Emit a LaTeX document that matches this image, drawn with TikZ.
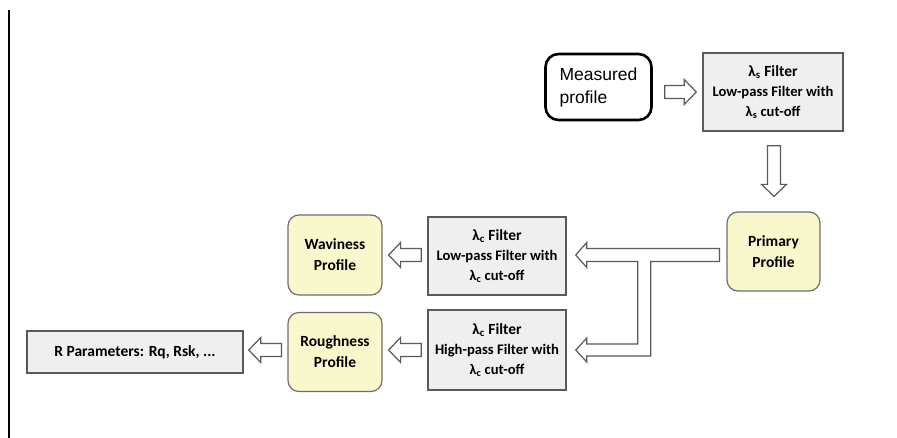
\documentclass[tikz,border=0pt]{standalone}
\usepackage{fontspec}
\setmainfont{Carlito}
\newfontfamily\arialf{Liberation Sans}
\usetikzlibrary{calc}
\definecolor{pyellow}{RGB}{249,247,204}
\definecolor{pgrayfill}{RGB}{239,239,239}
\definecolor{pborder}{RGB}{90,90,90}
\definecolor{yborder}{RGB}{110,110,110}
\newcommand\ftitle[1]{{\fontsize{15.5}{19.5}\selectfont #1}}
\tikzset{
  filterbox/.style={draw=pborder, line width=1.5pt, fill=pgrayfill, minimum width=138pt, minimum height=78pt, align=center, inner sep=1pt, font=\bfseries\fontsize{14.6}{20}\selectfont},
  profbox/.style={draw=yborder, line width=1.2pt, fill=pyellow, rounded corners=11pt, minimum width=94pt, minimum height=80pt, align=center, font=\bfseries\fontsize{15.5}{21}\selectfont},
  harrow/.style={draw=pborder, line width=1.2pt, fill=white, line join=miter},
}
\newcommand\harrowH[2]{%
  \draw[harrow] let \p1=(#1), \p2=(#2), \n1={sign(\x1-\x2)} in
    (\x2,\y2) -- ++({\n1*12pt},12.5pt) -- ++(0,-6pt) -- (\x1,{\y2+6.5pt}) -- (\x1,{\y2-6.5pt})
    -- ({\x2+\n1*12pt},{\y2-6.5pt}) -- ++(0,-6pt) -- cycle;}
\newcommand\harrowD[2]{%
  \draw[harrow] let \p1=(#1), \p2=(#2) in
    (\x1,\y2) -- ++(12.5pt,12pt) -- ++(-6pt,0) -- ({\x1+6.5pt},\y1) -- ({\x1-6.5pt},\y1)
    -- ({\x1-6.5pt},{\y2+12pt}) -- ++(-6pt,0) -- cycle;}
\begin{document}
\begin{tikzpicture}[x=1pt,y=-1pt]
\useasboundingbox (0,0) rectangle (897,438);
\draw[line width=1.8pt] (9,10) coordinate (vl1) -- (9,438) coordinate (vl2);

\node[draw=black, line width=2.6pt, rounded corners=13pt, minimum width=106pt, minimum height=66pt,
      align=left, font=\arialf\fontsize{17.5}{23}\selectfont, inner sep=2pt] (ms) at (598.5,87) {Measured\\profile};
\node[filterbox, minimum width=140pt] (ls) at (773,92) {\ftitle{λ\textsubscript{s} Filter}\\Low-pass Filter with\\λ\textsubscript{s} cut-off};
\node[profbox, minimum width=93pt, minimum height=79pt] (pp) at (773.5,251.5) {Primary\\Profile};
\node[filterbox] (lc1) at (497,256) {\ftitle{λ\textsubscript{c} Filter}\\Low-pass Filter with\\λ\textsubscript{c} cut-off};
\node[filterbox, minimum height=80pt] (lc2) at (497,350) {\ftitle{λ\textsubscript{c} Filter}\\High-pass Filter with\\λ\textsubscript{c} cut-off};
\node[profbox] (wp) at (335,255) {Waviness\\Profile};
\node[profbox, minimum height=79pt] (rp) at (335,352) {Roughness\\Profile};
\node[draw=pborder, line width=1.5pt, fill=pgrayfill, minimum width=216pt, minimum height=42pt,
      font=\bfseries\fontsize{15.5}{18}\selectfont] (rpar) at (135,352) {R Parameters: Rq, Rsk, ...};

% arrows
\harrowH{$(ms.east |- ls.west)+(12,0)$}{$(ls.west)+(-6,0)$}
\harrowD{$(ls.south)+(1,14)$}{$(pp.north)+(0,-15)$}
\harrowH{$(lc1.west)+(-6,0)$}{$(wp.east)+(6,0)$}
\harrowH{$(lc2.west)+(-6,0)$}{$(rp.east |- lc2.west)+(6,0)$}
\harrowH{$(rp.west |- lc2.west)+(-6,0)$}{$(rpar.east |- lc2.west)+(5,0)$}

% branching arrow from primary profile
\coordinate (t1) at ($(lc1.east)+(9,-1)$);
\coordinate (t2) at ($(lc2.east)+(9,0)$);
\coordinate (pt) at ($(pp.west)+(-7,0)$);
\draw[harrow] let \p1=(t1), \p2=(t2), \p3=(pt) in
  (\x1,\y1) -- ++(11pt,12.5pt) -- ++(0,-6pt) -- (\x3,{\y1+6.5pt}) -- (\x3,{\y1-6.5pt})
  -- ({\x1+75pt},{\y1-6.5pt}) -- ({\x1+75pt},{\y2-6pt}) -- ({\x1+11pt},{\y2-6pt}) -- ++(0,-6pt)
  -- (\x2,\y2) -- ++(11pt,12pt) -- ++(0,-6pt) -- ({\x1+62pt},{\y2+6pt}) -- ({\x1+62pt},{\y1-6.5pt})
  -- ({\x1+11pt},{\y1-6.5pt}) -- ++(0,-6pt) -- cycle;
\end{tikzpicture}
\end{document}
